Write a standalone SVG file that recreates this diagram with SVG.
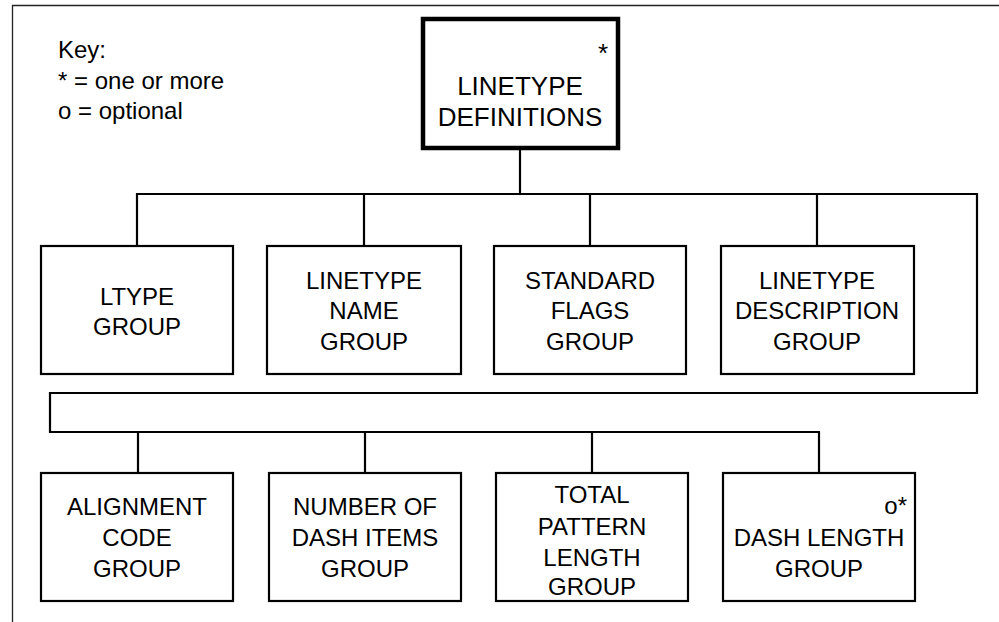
<svg xmlns="http://www.w3.org/2000/svg" width="999" height="622" viewBox="0 0 999 622">
<style>
text{font-family:"Liberation Sans",Arial,sans-serif;fill:#000}
.t{font-size:24px;text-anchor:middle}
.k{font-size:24px}
.box{fill:#fff;stroke:#000;stroke-width:2.2}
.main{fill:#fff;stroke:#000;stroke-width:4.5}
.c{fill:none;stroke:#000;stroke-width:2.2}
</style>
<rect width="999" height="622" fill="#fff"/>
<path d="M12.5 622 V5.5 H999" fill="none" stroke="#222" stroke-width="1.3"/>
<g id="key">
<text class="k" x="58" y="58">Key:</text>
<text class="k" x="58" y="89">* = one or more</text>
<text class="k" x="58" y="119">o = optional</text>
</g>
<g id="connectors">
<path class="c" d="M520 148 V194"/>
<path class="c" d="M137 246 V194 H977 V393 H50 V432 H819 V473"/>
<path class="c" d="M364 194 V246 M590 194 V246 M817 194 V246"/>
<path class="c" d="M138 432 V473 M365 432 V473 M592 432 V473"/>
</g>
<g id="linetype-definitions">
<rect class="main" x="423" y="19" width="195" height="129"/>
<text x="608" y="62" style="font-size:26px;text-anchor:end">*</text>
<text x="520" y="95" style="font-size:26px;text-anchor:middle">LINETYPE</text>
<text x="520" y="126" style="font-size:26px;text-anchor:middle">DEFINITIONS</text>
</g>
<g id="ltype-group">
<rect class="box" x="41" y="246" width="192" height="128"/>
<text class="t" x="137" y="305">LTYPE</text>
<text class="t" x="137" y="335">GROUP</text>
</g>
<g id="linetype-name-group">
<rect class="box" x="267" y="246" width="194" height="128"/>
<text class="t" x="364" y="289">LINETYPE</text>
<text class="t" x="364" y="319">NAME</text>
<text class="t" x="364" y="350">GROUP</text>
</g>
<g id="standard-flags-group">
<rect class="box" x="494" y="246" width="192" height="128"/>
<text class="t" x="590" y="289">STANDARD</text>
<text class="t" x="590" y="319">FLAGS</text>
<text class="t" x="590" y="350">GROUP</text>
</g>
<g id="linetype-description-group">
<rect class="box" x="721" y="246" width="193" height="128"/>
<text class="t" x="817" y="289">LINETYPE</text>
<text class="t" x="817" y="319">DESCRIPTION</text>
<text class="t" x="817" y="350">GROUP</text>
</g>
<g id="alignment-code-group">
<rect class="box" x="41" y="473" width="192" height="128"/>
<text class="t" x="137" y="515">ALIGNMENT</text>
<text class="t" x="137" y="546">CODE</text>
<text class="t" x="137" y="577">GROUP</text>
</g>
<g id="number-of-dash-items-group">
<rect class="box" x="269" y="473" width="192" height="128"/>
<text class="t" x="365" y="515">NUMBER OF</text>
<text class="t" x="365" y="546">DASH ITEMS</text>
<text class="t" x="365" y="577">GROUP</text>
</g>
<g id="total-pattern-length-group">
<rect class="box" x="496" y="473" width="192" height="128"/>
<text class="t" x="592" y="503">TOTAL</text>
<text class="t" x="592" y="535">PATTERN</text>
<text class="t" x="592" y="566">LENGTH</text>
<text class="t" x="592" y="595">GROUP</text>
</g>
<g id="dash-length-group">
<rect class="box" x="723" y="473" width="192" height="128"/>
<text x="907" y="514" style="font-size:24px;text-anchor:end">o*</text>
<text class="t" x="819" y="546">DASH LENGTH</text>
<text class="t" x="819" y="577">GROUP</text>
</g>
</svg>
